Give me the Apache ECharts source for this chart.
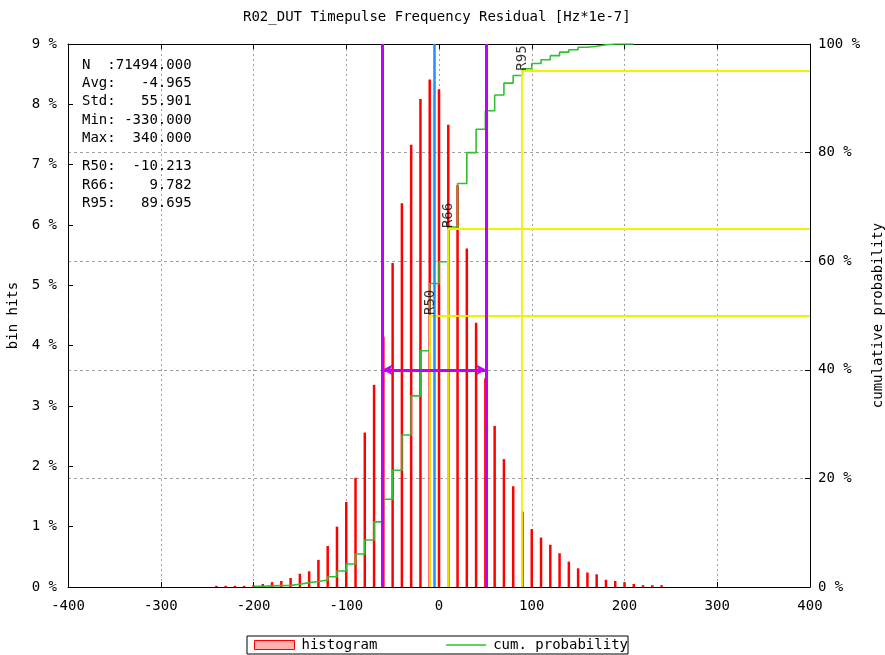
<!DOCTYPE html>
<html><head><meta charset="utf-8">
<script src="https://cdn.jsdelivr.net/npm/echarts@6/dist/echarts.min.js"></script>
<style>html,body{margin:0;padding:0;background:#fff;overflow:hidden}#c{width:885px;height:655px}</style>
</head><body><div id="c"></div>
<script>
// ---- data ----
const binCenters = [-240,-230,-220,-210,-200,-190,-180,-170,-160,-150,-140,-130,-120,-110,-100,-90,-80,-70,-60,-50,-40,-30,-20,-10,0,10,20,30,40,50,60,70,80,90,100,110,120,130,140,150,160,170,180,190,200,210,220,230,240];
const histPercent = [0.02,0.02,0.02,0.02,0.03,0.05,0.08,0.10,0.15,0.22,0.26,0.45,0.68,1.00,1.41,1.81,2.56,3.35,4.15,5.37,6.36,7.33,8.09,8.41,8.25,7.66,6.66,5.61,4.38,3.46,2.67,2.12,1.67,1.25,0.96,0.82,0.70,0.56,0.42,0.31,0.24,0.21,0.12,0.10,0.08,0.05,0.03,0.03,0.03];
const cumX = [-200,-190,-180,-170,-160,-150,-140,-130,-120,-110,-100,-90,-80,-70,-60,-50,-40,-30,-20,-10,0,10,20,30,40,50,60,70,80,90,100,110,120,130,140,150,160,170,180,190,200,210];
const cumPercent = [0.15,0.2,0.25,0.3,0.5,0.8,1.0,1.3,1.9,2.95,4.24,6.08,8.66,12.0,16.15,21.5,28.0,35.2,43.5,55.9,59.9,66.3,74.3,80.0,84.3,87.7,90.6,92.8,94.2,95.45,96.4,97.1,97.85,98.5,98.95,99.4,99.6,99.85,100,100,100,100];
const statsBlock1 = ['N  :71494.000','Avg:   -4.965','Std:   55.901','Min: -330.000','Max:  340.000'];
const statsBlock2 = ['R50:  -10.213','R66:    9.782','R95:   89.695'];
const AVG = -4.965, STD = 55.901;
const quantiles = [{name:'R50', x:-10.213, p:50},{name:'R66', x:9.782, p:66},{name:'R95', x:89.695, p:95}];
const ARROW_LEVEL = 3.6;
const X_MIN = -400, X_MAX = 400, X_STEP = 100;
const Y_MAX = 9, Y_STEP = 1, Y2_MAX = 100, Y2_STEP = 20;
const TITLE = 'R02_DUT Timepulse Frequency Residual [Hz*1e-7]';

// ---- chart ----
const FONT = 'DejaVu Sans Mono';
const FS = 14;
const chart = echarts.init(document.getElementById('c'), null, {renderer:'canvas', width:885, height:655});

const yellowLines = [];
quantiles.forEach(q => {
  yellowLines.push([{coord:[q.x, 0]},{coord:[q.x, q.p]}]);
  yellowLines.push([{coord:[q.x, q.p]},{coord:[X_MAX, q.p]}]);
});

function vline(x, color, width, z) {
  return {type:'line', data:[], silent:true, animation:false,
    markLine:{z:z, silent:true, animation:false, symbol:['none','none'], label:{show:false},
      emphasis:{disabled:true}, lineStyle:{color:color, width:width, type:'solid'}, data:[{xAxis:x}]}};
}

const option = {
  animation:false,
  backgroundColor:'#fff',
  textStyle:{fontFamily:FONT, fontSize:FS, color:'#000'},
  title:{text:TITLE, left:243, top:10, padding:0,
    textStyle:{fontFamily:FONT, fontSize:FS, fontWeight:'normal', color:'#000'}},
  legend:{left:247, top:636, itemWidth:40, itemHeight:9, itemGap:68,
    padding:[2,0,2,7], borderColor:'#000', borderWidth:1, selectedMode:false,
    textStyle:{fontFamily:FONT, fontSize:FS, color:'#000', padding:[0,0,0,2]},
    data:[{name:'histogram', icon:'rect', itemStyle:{color:'#ffb0b0', borderColor:'#ff0000', borderWidth:1}},
          {name:'cum. probability', itemStyle:{color:'rgba(0,0,0,0)', borderWidth:0, opacity:0},
           lineStyle:{color:'#30c030', width:1.6}}]},
  grid:{left:68, right:75, top:44, bottom:68, containLabel:false, outerBoundsMode:'none'},
  xAxis:[
    {type:'value', min:X_MIN, max:X_MAX, interval:X_STEP, position:'bottom',
     axisLine:{show:true, onZero:false, lineStyle:{color:'#000', width:1}},
     axisTick:{show:true, inside:true, length:5, lineStyle:{color:'#000'}},
     axisLabel:{margin:12, color:'#000', fontFamily:FONT, fontSize:FS},
     splitLine:{show:true, lineStyle:{color:'#a0a0a0', width:1, type:[2,3]}}},
    {type:'value', min:X_MIN, max:X_MAX, interval:X_STEP, position:'top',
     axisLine:{show:true, onZero:false, lineStyle:{color:'#000', width:1}},
     axisTick:{show:true, inside:true, length:5, lineStyle:{color:'#000'}},
     axisLabel:{show:false}, splitLine:{show:false}}
  ],
  yAxis:[
    {type:'value', min:0, max:Y_MAX, interval:Y_STEP, position:'left',
     name:'bin hits', nameLocation:'middle', nameRotate:90, nameGap:41,
     nameTextStyle:{fontFamily:FONT, fontSize:FS, color:'#000'},
     axisLine:{show:true, onZero:false, lineStyle:{color:'#000', width:1}},
     axisTick:{show:true, inside:true, length:5, lineStyle:{color:'#000'}},
     axisLabel:{margin:11, color:'#000', fontFamily:FONT, fontSize:FS, formatter:'{value} %'},
     splitLine:{show:false}},
    {type:'value', min:0, max:Y2_MAX, interval:Y2_STEP, position:'right',
     name:'cumulative probability', nameLocation:'middle', nameRotate:90, nameGap:60,
     nameTextStyle:{fontFamily:FONT, fontSize:FS, color:'#000'},
     axisLine:{show:true, onZero:false, lineStyle:{color:'#000', width:1}},
     axisTick:{show:true, inside:true, length:5, lineStyle:{color:'#000'}},
     axisLabel:{margin:8, color:'#000', fontFamily:FONT, fontSize:FS, formatter:'{value} %'},
     splitLine:{show:true, lineStyle:{color:'#a0a0a0', width:1, type:[3,3]}}}
  ],
  graphic:[
    {type:'text', left:82, top:56, silent:true, z:100,
     style:{text:statsBlock1.join('\n'), font:FS+'px "'+FONT+'"', fill:'#000', lineHeight:18.3}},
    {type:'text', left:82, top:157.5, silent:true, z:100,
     style:{text:statsBlock2.join('\n'), font:FS+'px "'+FONT+'"', fill:'#000', lineHeight:18.3}}
  ],
  series:[
    {name:'histogram', type:'bar', xAxisIndex:0, yAxisIndex:0, z:2, barWidth:2.5,
     itemStyle:{color:'#ff0000'}, emphasis:{disabled:true},
     data:binCenters.map((x,i)=>[x, histPercent[i]])},
    {name:'cum. probability', type:'line', xAxisIndex:0, yAxisIndex:1, z:3, step:'end',
     symbol:'none', lineStyle:{color:'#30c030', width:1.6}, itemStyle:{color:'#30c030'},
     emphasis:{disabled:true},
     data:cumX.map((x,i)=>[x, cumPercent[i]])},
    {type:'line', data:[], xAxisIndex:0, yAxisIndex:1, silent:true,
     markLine:{z:4, silent:true, animation:false, symbol:['none','none'], label:{show:false},
       emphasis:{disabled:true}, lineStyle:{color:'#f2f200', width:1.8, type:'solid'}, data:yellowLines}},
    {type:'scatter', xAxisIndex:0, yAxisIndex:1, z:7, symbolSize:1, silent:true,
     itemStyle:{color:'rgba(0,0,0,0)'},
     label:{show:true, formatter:'{b}', position:[0,0], rotate:90, align:'left', verticalAlign:'middle',
       offset:[0,1], fontFamily:FONT, fontSize:FS, color:'#000'},
     data:quantiles.map(q=>({name:q.name, value:[q.x, q.p]}))},
    vline(AVG, '#2090ff', 2.5, 5),
    vline(AVG - STD, '#c000ff', 3, 6),
    vline(AVG + STD, '#c000ff', 3, 6),
    {type:'line', data:[], xAxisIndex:0, yAxisIndex:0, silent:true,
     markLine:{z:6, silent:true, animation:false, symbol:['arrow','arrow'], symbolSize:[8,10], label:{show:false},
       emphasis:{disabled:true}, lineStyle:{color:'#c000ff', width:3, type:'solid'},
       data:[[{coord:[AVG-STD, ARROW_LEVEL]},{coord:[AVG+STD, ARROW_LEVEL]}]]}}
  ]
};
chart.setOption(option);
</script></body></html>
